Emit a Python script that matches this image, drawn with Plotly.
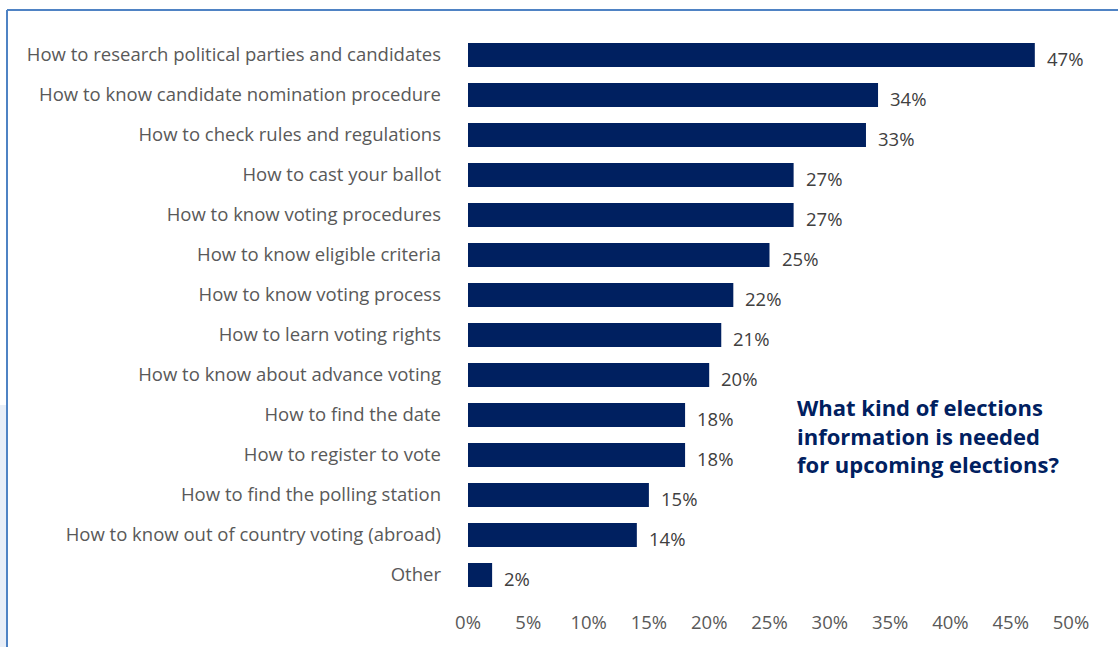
import plotly.graph_objects as go

categories = [
    "How to research political parties and candidates",
    "How to know candidate nomination procedure",
    "How to check rules and regulations",
    "How to cast your ballot",
    "How to know voting procedures",
    "How to know eligible criteria",
    "How to know voting process",
    "How to learn voting rights",
    "How to know about advance voting",
    "How to find the date",
    "How to register to vote",
    "How to find the polling station",
    "How to know out of country voting (abroad)",
    "Other",
]
values = [47, 34, 33, 27, 27, 25, 22, 21, 20, 18, 18, 15, 14, 2]
tick_vals = [0, 5, 10, 15, 20, 25, 30, 35, 40, 45, 50]
tick_text = [f"{v}%" for v in tick_vals]

title_lines = [
    "What kind of elections",
    "information is needed",
    "for upcoming elections?",
]

NAVY = "#002060"
GREY = "#595959"
FONT = "Open Sans"
FS = 18.5

W, H = 1118, 647
ML, MR, MT, MB = 468, 47, 35, 52
PW, PH = W - ML - MR, H - MT - MB


def px_to_paper_x(px):
    return (px - ML) / PW


def px_to_paper_y(py):
    return (H - MB - py) / PH


fig = go.Figure(
    go.Bar(
        x=values,
        y=categories,
        orientation="h",
        marker=dict(color=NAVY, line=dict(width=0)),
        width=0.6,
        hoverinfo="skip",
    )
)

# value labels placed just right of each bar end
for cat, v in zip(categories, values):
    fig.add_annotation(
        x=v, y=cat, xref="x", yref="y",
        text=f"{v}%", showarrow=False,
        xanchor="left", yanchor="middle",
        xshift=10, yshift=-3,
        font=dict(family=FONT, size=FS, color="#404040"),
    )

fig.add_annotation(
    x=px_to_paper_x(795), y=px_to_paper_y(390),
    xref="paper", yref="paper",
    xanchor="left", yanchor="top", align="left",
    text="<br>".join(f"<b>{t}</b>" for t in title_lines),
    showarrow=False,
    font=dict(family=FONT, size=22, color=NAVY),
)

# frame lines and left-edge tint
border = "#4f83c4"
fig.add_shape(type="rect", xref="paper", yref="paper",
              x0=px_to_paper_x(0), x1=px_to_paper_x(6),
              y0=px_to_paper_y(405), y1=px_to_paper_y(H),
              line=dict(width=0), fillcolor="#e8eef7", layer="below")
fig.add_shape(type="line", xref="paper", yref="paper",
              x0=px_to_paper_x(7), x1=px_to_paper_x(W),
              y0=px_to_paper_y(10), y1=px_to_paper_y(10),
              line=dict(color=border, width=2))
fig.add_shape(type="line", xref="paper", yref="paper",
              x0=px_to_paper_x(7), x1=px_to_paper_x(7),
              y0=px_to_paper_y(10), y1=px_to_paper_y(H),
              line=dict(color=border, width=2))

fig.update_layout(
    width=W, height=H,
    margin=dict(l=ML, r=MR, t=MT, b=MB, pad=0),
    paper_bgcolor="white", plot_bgcolor="white",
    showlegend=False,
    bargap=0.4,
    font=dict(family=FONT, size=FS, color=GREY),
    xaxis=dict(
        range=[0, 50], tickvals=tick_vals, ticktext=tick_text,
        showgrid=False, zeroline=False, showline=False,
        ticks="", ticklabelstandoff=14,
        tickfont=dict(family=FONT, size=FS, color=GREY),
        fixedrange=True,
    ),
    yaxis=dict(
        autorange="reversed",
        showgrid=False, zeroline=False, showline=False,
        ticks="", ticklabelstandoff=26,
        tickfont=dict(family=FONT, size=FS, color=GREY),
        fixedrange=True,
    ),
)

fig.write_html("out.html")
